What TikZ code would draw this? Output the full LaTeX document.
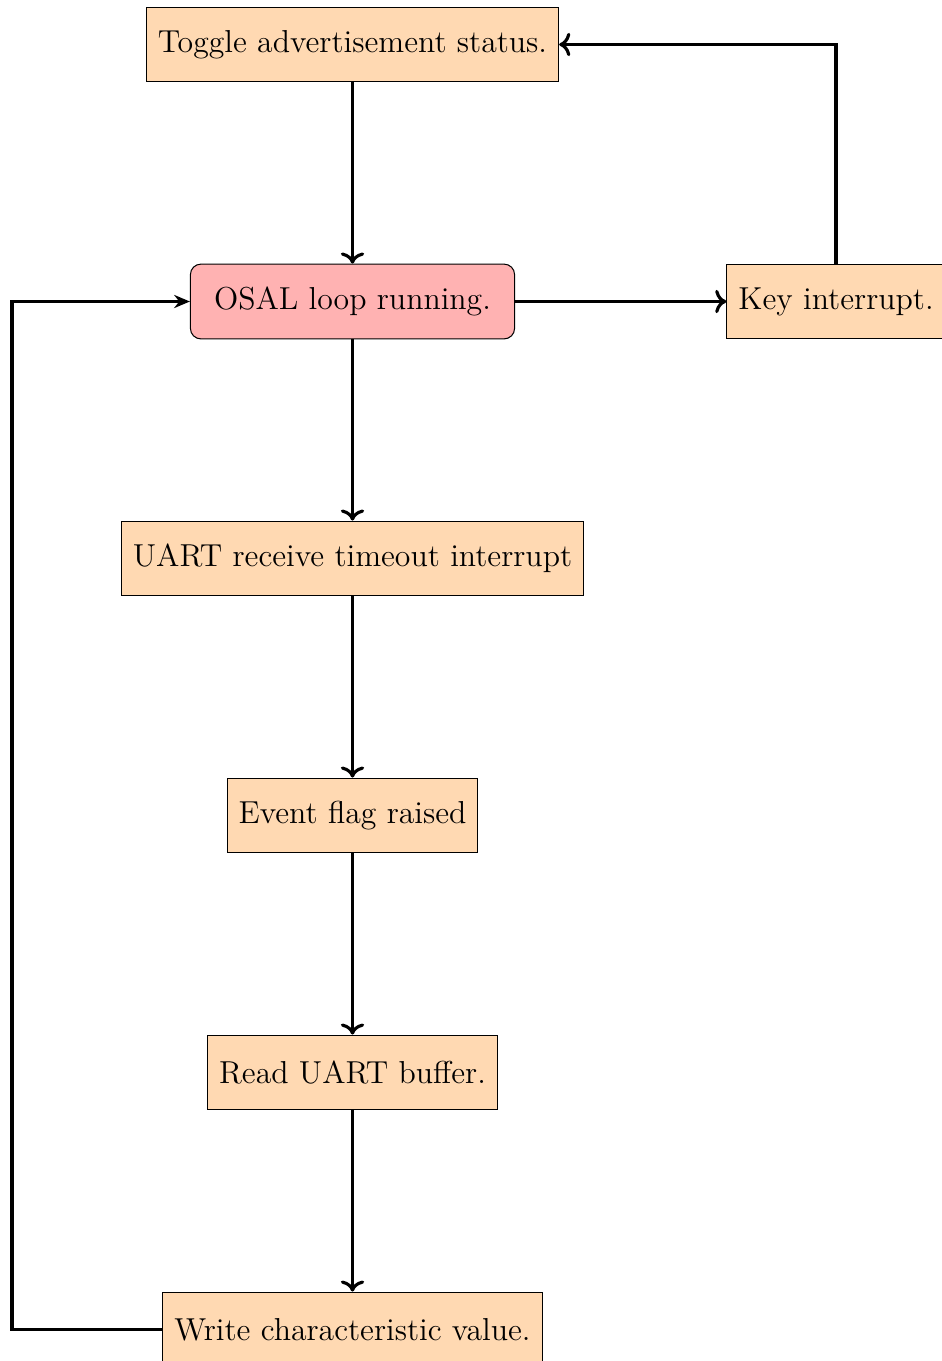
\documentclass[tikz,border=0pt]{standalone}
\usetikzlibrary{arrows.meta}
\begin{document}
\begin{tikzpicture}[x=0.381pt,y=-0.381pt,
  box/.style={draw=black, line width=0.4pt, fill=orange!30, font=\fontsize{12.1}{14.5}\selectfont, minimum height=28.5pt, inner xsep=4.4pt},
  loopbox/.style={box, fill=red!30, rounded corners=4pt},
  conn/.style={line width=1.2pt, ->},
  back/.style={line width=1.2pt, -{Stealth[length=6pt,width=5pt]}}]
\useasboundingbox (0,0) rectangle (941,1361);
\node[box] (toggle) at (352.5,44.5) {Toggle advertisement status.};
\node[loopbox, minimum width=123.5pt] (osal) at (352.5,301.5) {OSAL loop running.};
\node[box] (key) at (836,301.5) {Key interrupt.};
\node[box] (uart) at (352.5,558.5) {UART receive timeout interrupt};
\node[box] (event) at (352.5,815.5) {Event flag raised};
\node[box] (read) at (352.5,1072.5) {Read UART buffer.};
\node[box] (write) at (352.5,1329.5) {Write characteristic value.};
\coordinate (leftx) at (12,0);
\draw[conn] (toggle) -- (osal);
\draw[conn] (osal) -- (key);
\draw[conn] (key.north) |- (toggle.east);
\draw[conn] (osal) -- (uart);
\draw[conn] (uart) -- (event);
\draw[conn] (event) -- (read);
\draw[conn] (read) -- (write);
\draw[back] (write.west) -- (write.west -| leftx) |- (osal.west);
\end{tikzpicture}
\end{document}
